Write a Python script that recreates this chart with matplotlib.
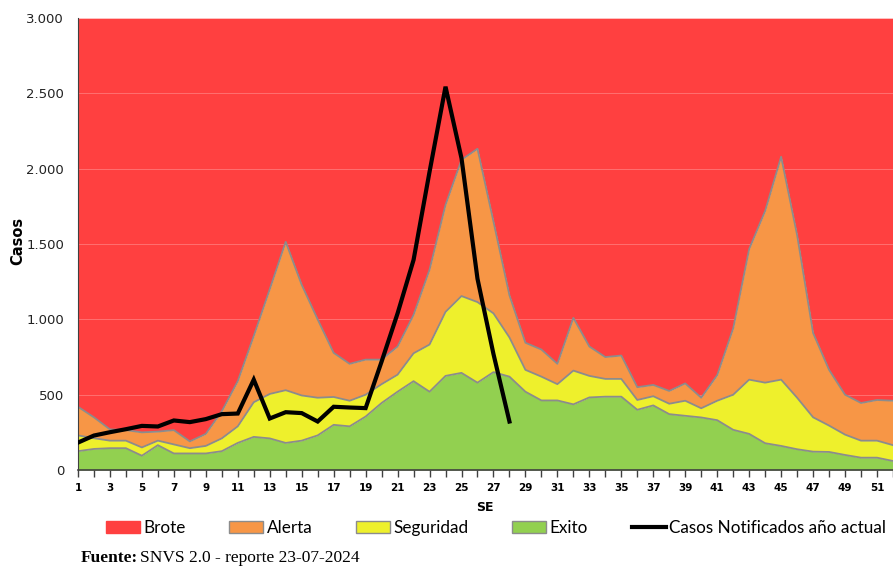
import matplotlib
matplotlib.use('Agg')
from matplotlib import pyplot as plt
from matplotlib.patches import Patch
from matplotlib.lines import Line2D
from matplotlib.ticker import FuncFormatter
import numpy as np

# semanas epidemiologicas
semanas = list(range(1, 53))

# limites superiores de cada zona del corredor (acumulados)
limite_exito = [125, 140, 145, 145, 95, 165, 110, 110, 110, 125,
                180, 220, 210, 180, 195, 230, 300, 290, 355, 445,
                520, 590, 520, 625, 645, 580, 650, 620, 520, 462,
                462, 436, 482, 487, 487, 400, 429, 371, 360, 349,
                331, 267, 240, 178, 160, 138, 122, 120, 100, 82,
                82, 60]
limite_seguridad = [230, 211, 195, 195, 150, 195, 170, 145, 160, 210,
                    290, 450, 505, 530, 495, 480, 485, 460, 500, 570,
                    633, 775, 833, 1050, 1155, 1115, 1040, 880, 665, 620,
                    570, 660, 625, 605, 605, 465, 490, 440, 460, 410,
                    460, 500, 600, 580, 600, 480, 350, 295, 235, 195,
                    195, 165]
limite_alerta = [420, 350, 270, 265, 250, 255, 265, 190, 240, 390,
                 590, 890, 1200, 1515, 1230, 1000, 778, 705, 733, 733,
                 820, 1030, 1330, 1760, 2060, 2133, 1650, 1160, 845, 800,
                 705, 1010, 820, 750, 760, 550, 565, 525, 575, 480,
                 630, 940, 1467, 1720, 2080, 1560, 910, 665, 500, 445,
                 465, 460]
techo_brote = 3000

# casos notificados en el año actual (SE 1 a 28)
casos_actual = [182, 229, 251, 271, 293, 289, 329, 318, 338, 371,
                375, 600, 342, 384, 378, 322, 420, 415, 411, 720,
                1040, 1395, 1980, 2545, 2070, 1270, 770, 322]

col_brote = '#FF4040'
col_alerta = '#F79646'
col_seguridad = '#EEF02C'
col_exito = '#92D050'
col_borde = '#8C8C8C'

fig = plt.figure(figsize=(8.93, 5.68), dpi=100)
ax = fig.add_axes([0.0873, 0.1725, 0.9127, 0.7955])

x = np.array(semanas)
ax.fill_between(x, limite_alerta, techo_brote, color=col_brote, lw=0, zorder=0.5)
for v in [500, 1000, 1500, 2000, 2500]:
    ax.axhline(v, color='#FF7878', lw=0.6, zorder=0.8)
ax.fill_between(x, limite_seguridad, limite_alerta, color=col_alerta, lw=0, zorder=1)
ax.fill_between(x, limite_exito, limite_seguridad, color=col_seguridad, lw=0, zorder=1)
ax.fill_between(x, 0, limite_exito, color=col_exito, lw=0, zorder=1)
for lim in [limite_exito, limite_seguridad, limite_alerta]:
    ax.plot(x, lim, color=col_borde, lw=1.3, zorder=2)

ax.plot(semanas[:len(casos_actual)], casos_actual, color='black', lw=3,
        solid_joinstyle='miter', zorder=3)

ax.set_xlim(1, 51.62)
ax.set_ylim(0, 3000)
ax.set_yticks(range(0, 3001, 500))
ax.yaxis.set_major_formatter(FuncFormatter(lambda v, p: f'{int(v):,}'.replace(',', '.')))
ax.tick_params(axis='y', length=0, labelsize=9.5, pad=10, colors='#222222')
ax.set_xticks(semanas)
ax.set_xticklabels([str(s) if s % 2 == 1 else '' for s in semanas])
ax.tick_params(axis='x', length=5, width=1, color='#404040', pad=4)
for lbl in ax.get_xticklabels():
    lbl.set_fontweight('bold')
    lbl.set_fontsize(7.5)

for s in ['top', 'right']:
    ax.spines[s].set_visible(False)
ax.spines['left'].set_color('#404040')
ax.spines['bottom'].set_color('#404040')
ax.spines['bottom'].set_linewidth(1.2)

fig.text(0.020, 0.575, 'Casos', rotation=90, ha='center', va='center',
         fontsize=10.5, fontweight='bold')
fig.text(0.543, 0.106, 'SE', ha='center', va='center', fontsize=9,
         fontweight='bold')

handles = [Patch(facecolor=col_brote, edgecolor=col_brote),
           Patch(facecolor=col_alerta, edgecolor=col_borde),
           Patch(facecolor=col_seguridad, edgecolor=col_borde),
           Patch(facecolor=col_exito, edgecolor=col_borde),
           Line2D([0], [0], color='black', lw=3)]
labels = ['Brote', 'Alerta', 'Seguridad', 'Exito', 'Casos Notificados año actual']
fig.legend(handles, labels, loc='center', bbox_to_anchor=(0.5554, 0.07), ncol=5,
           frameon=False, handlelength=2.0, handleheight=0.7, handletextpad=0.2,
           columnspacing=2.55, prop={'family': 'Lato', 'size': 12.3})

fig.canvas.draw()
t1 = fig.text(0.090, 0.0176, 'Fuente:', fontsize=12.5, fontweight='bold',
              family='Liberation Serif', va='center')
fig.canvas.draw()
bb = t1.get_window_extent()
fig.text((bb.x1 + 3) / fig.bbox.width, 0.0176, 'SNVS 2.0 - reporte 23-07-2024',
         fontsize=12.5, family='Liberation Serif', va='center')

fig.savefig('out.png', dpi=100)
